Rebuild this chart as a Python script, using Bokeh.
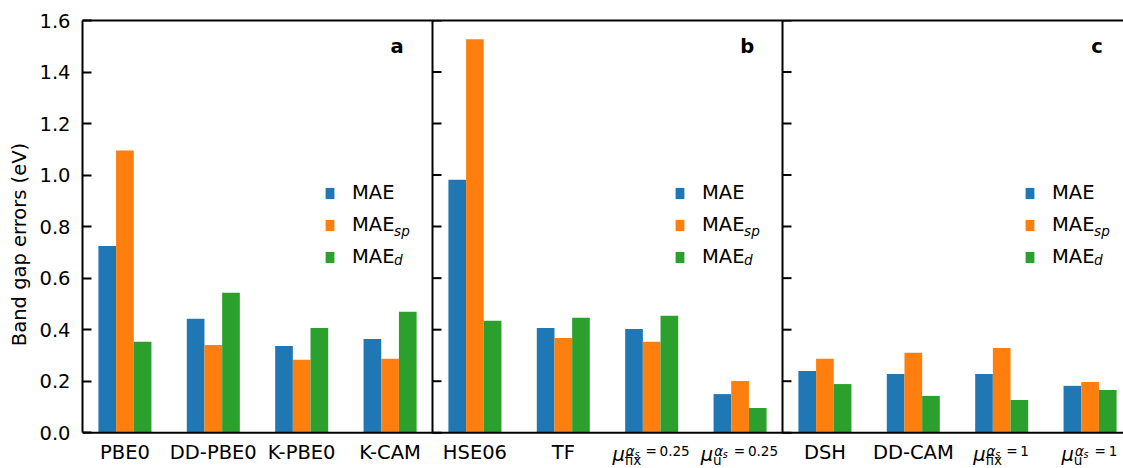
import numpy as np
from bokeh.plotting import figure
from bokeh.models import (Range1d, FixedTicker, PrintfTickFormatter, LinearAxis,
                          Legend, LegendItem, Label, Span)
from bokeh.core.properties import value
from bokeh.embed import file_html
from bokeh.resources import INLINE

# ---------------- data ----------------
cats_a = ["PBE0", "DD-PBE0", "K-PBE0", "K-CAM"]
mae_a = [0.725, 0.442, 0.337, 0.364]
mae_sp_a = [1.095, 0.341, 0.283, 0.287]
mae_d_a = [0.353, 0.543, 0.407, 0.470]

cats_b = ["HSE06", "TF", "μ_fix^αs=0.25", "μ_u^αs=0.25"]
mae_b = [0.982, 0.407, 0.403, 0.150]
mae_sp_b = [1.527, 0.368, 0.353, 0.201]
mae_d_b = [0.435, 0.446, 0.454, 0.096]

cats_c = ["DSH", "DD-CAM", "μ_fix^αs=1", "μ_u^αs=1"]
mae_c = [0.240, 0.228, 0.228, 0.182]
mae_sp_c = [0.287, 0.310, 0.329, 0.197]
mae_d_c = [0.189, 0.143, 0.127, 0.166]

series_main = ["MAE", "MAE", "MAE"]
series_sub = ["", "sp", "d"]
panel_letters = ["a", "b", "c"]
y_ticks = [0.0, 0.2, 0.4, 0.6, 0.8, 1.0, 1.2, 1.4, 1.6]
y_label = "Band gap errors (eV)"

# ---------------- style / layout ----------------
FONT = "DejaVu Sans"
FS = "19.5px"
SFS = "13.6px"
SSFS = "9.6px"
COLORS = ["#1f77b4", "#ff7f0e", "#2ca02c"]
OFFS = [-0.2, 0.0, 0.2]
LW = 2
PANEL_W = 3.96          # width of one panel in data units
X0 = -0.48
FRAME_W = 1041
FRAME_H = 448
PXU = 350 / PANEL_W     # px per x unit
YPX = 411.6 / 1.6       # px per y unit
Y_BOTTOM = -(468 - 432.3) / YPX


def ypx(py):
    """screen y (px from top) -> data y"""
    return (432.3 - py) / YPX


p = figure(width=1123, height=468, frame_width=FRAME_W, frame_height=FRAME_H,
           x_range=Range1d(X0, X0 + FRAME_W / PXU), y_range=Range1d(Y_BOTTOM, 1.6),
           output_backend="svg", toolbar_location=None,
           min_border_left=82, min_border_right=0, min_border_top=20, min_border_bottom=0,
           outline_line_color=None, background_fill_color="white",
           border_fill_color="white")
p.grid.visible = False
p.xaxis.visible = False

panels = [(cats_a, mae_a, mae_sp_a, mae_d_a),
          (cats_b, mae_b, mae_sp_b, mae_d_b),
          (cats_c, mae_c, mae_sp_c, mae_d_c)]

all_x = []
all_vals = [[], [], []]
for pi, (cats, mae, sp, d) in enumerate(panels):
    idx = np.arange(len(cats)) + pi * PANEL_W
    all_x.extend(idx.tolist())
    for k, vals in enumerate([mae, sp, d]):
        all_vals[k].extend(vals)
all_x = np.array(all_x)

rends = []
for k in range(3):
    r = p.vbar(x=all_x + OFFS[k], top=all_vals[k], bottom=0, width=0.2,
               fill_color=COLORS[k], line_color=None)
    rends.append(r)

# ---------------- spines & ticks ----------------
ya = p.yaxis[0]
ya.ticker = FixedTicker(ticks=y_ticks)
ya.formatter = PrintfTickFormatter(format="%.1f")
ya.bounds = (0, 1.6)
ya.major_tick_in = 9
ya.major_tick_out = 0
ya.major_tick_line_width = LW
ya.minor_tick_line_color = None
ya.axis_line_width = LW
ya.axis_line_color = "black"
ya.major_label_text_font = FONT
ya.major_label_text_font_size = FS
ya.major_label_text_color = "black"
ya.major_label_standoff = 12
ya.axis_label = y_label
ya.axis_label_text_font = FONT
ya.axis_label_text_font_size = FS
ya.axis_label_text_font_style = "normal"
ya.axis_label_text_color = "black"
ya.axis_label_standoff = 5

top = LinearAxis(ticker=FixedTicker(ticks=[]), major_tick_in=0, major_tick_out=0,
                 minor_tick_line_color=None, axis_line_width=LW, axis_line_color="black")
p.add_layout(top, "above")

p.add_layout(Span(location=0, dimension="width", line_color="black", line_width=LW))

bounds = [X0 + PANEL_W * i for i in (1, 2)]
p.segment(x0=bounds, y0=[0] * 2, x1=bounds, y1=[1.6] * 2,
          line_color="black", line_width=LW)
tick_len = 9 / PXU
tx0, ty = [], []
for b in bounds:
    for t in y_ticks:
        tx0.append(b)
        ty.append(t)
p.segment(x0=tx0, y0=ty, x1=[v + tick_len for v in tx0], y1=ty,
          line_color="black", line_width=LW)

# ---------------- category labels ----------------
plain_x, plain_t = [], []
mu_parts = {k: ([], [], []) for k in ("mu", "sub", "alpha", "s", "val")}
for pi, (cats, *_r) in enumerate(panels):
    for j, c in enumerate(cats):
        xc = j + pi * PANEL_W
        if not c.startswith("μ"):
            plain_x.append(xc)
            plain_t.append(c)
        else:
            base, sup = c.split("^")
            sub = base.split("_")[1]
            val = sup.split("=")[1]
            vw = 44.0 if len(val) > 2 else 22.5
            L = -(33 + vw) / 2 - 0.8
            for key, txt, xo in (("mu", "μ", L), ("sub", sub, L + 12.3),
                                 ("alpha", "α", L + 13.4), ("s", "s", L + 22.0),
                                 ("val", "=\u2009" + val, L + 33.0)):
                mu_parts[key][0].append(xc)
                mu_parts[key][1].append(txt)
                mu_parts[key][2].append(xo)

# vertical centres (px from top) of each text piece
p.text(x=plain_x, y=[ypx(452.5)] * len(plain_x), text=plain_t,
       text_font=value(FONT), text_font_size=value(FS), text_color="black",
       text_align="center", text_baseline="middle")

piece_style = {"mu": (454.5, FS, "italic"), "sub": (459.8, SFS, "normal"),
               "alpha": (450.5, SFS, "italic"), "s": (454.0, SSFS, "italic"),
               "val": (450.5, SFS, "normal")}
for key, (xs, ts, xos) in mu_parts.items():
    mid_py, fs, st = piece_style[key]
    p.text(x=xs, y=[ypx(mid_py)] * len(xs), text=ts, x_offset=xos,
           text_font=value(FONT), text_font_size=value(fs), text_font_style=st,
           text_color="black", text_align="left", text_baseline="middle")

# ---------------- legends, subscripts, letters ----------------
for pi in range(3):
    items = [LegendItem(label=series_main[k], renderers=[rends[k]]) for k in range(3)]
    leg = Legend(items=items, location=(242 + round(pi * PANEL_W * PXU), 200),
                 orientation="vertical",
                 glyph_width=11, glyph_height=14, label_standoff=17, spacing=9,
                 padding=0, margin=0, border_line_color=None,
                 background_fill_alpha=0, label_text_font=FONT,
                 label_text_font_size=FS, label_text_color="black", label_height=14)
    p.add_layout(leg)
    sub_y = [None, ypx(230.5), ypx(260.0)]
    for k in range(3):
        if series_sub[k]:
            p.add_layout(Label(x=3.045 + pi * PANEL_W, y=sub_y[k], text=series_sub[k],
                               text_font=FONT, text_font_size=SFS,
                               text_font_style="italic", text_align="left",
                               text_baseline="middle", text_color="black"))
    p.add_layout(Label(x=3.08 + pi * PANEL_W, y=1.5, text=panel_letters[pi],
                       text_font=FONT, text_font_size=FS, text_font_style="bold",
                       text_align="center", text_baseline="middle", text_color="black"))

open("out.html", "w").write(file_html(p, INLINE))
